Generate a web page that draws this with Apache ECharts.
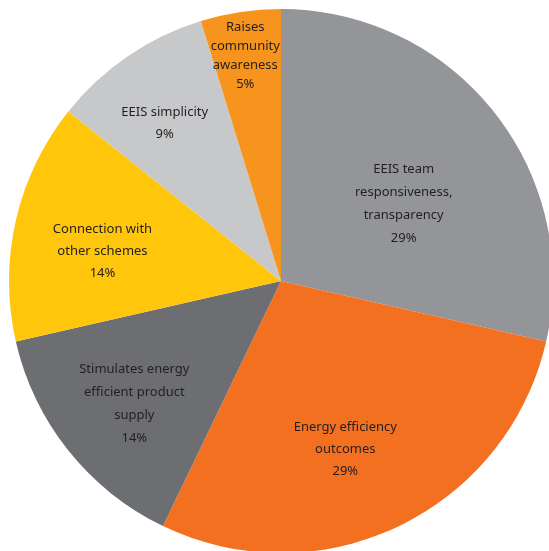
<!DOCTYPE html>
<html>
<head>
<meta charset="utf-8">
<script src="https://cdn.jsdelivr.net/npm/echarts@6/dist/echarts.min.js"></script>
<style>
html,body{margin:0;padding:0;background:#fff;}
#chart{width:549px;height:551px;}
</style>
</head>
<body>
<div id="chart"></div>
<script>
// Data
const categories = [
  "EEIS team\nresponsiveness,\ntransparency",
  "Energy efficiency\noutcomes",
  "Stimulates energy\nefficient product\nsupply",
  "Connection with\nother schemes",
  "EEIS simplicity",
  "Raises\ncommunity\nawareness"
];
const values = [6, 6, 3, 3, 2, 1];
const percentLabels = ["29%", "29%", "14%", "14%", "9%", "5%"];

// Styles
const colors = ["#939598", "#f37021", "#6d6e71", "#ffc60b", "#c7c8ca", "#f7941d"];
const labelOffsets = [[14, 9], [4, 43], [-38, 36], [-43, 1], [-38, -43], [-15, -88]];
const lineHeights = [23, 22, 23, 22, 22, 19];

const chart = echarts.init(document.getElementById('chart'), null, {renderer: 'canvas'});
const data = categories.map((c, i) => ({
  name: c,
  value: values[i],
  itemStyle: {color: colors[i]},
  label: {offset: labelOffsets[i], lineHeight: lineHeights[i]}
}));
chart.setOption({
  animation: false,
  series: [{
    type: 'pie',
    center: [281, 281],
    radius: [0, 272],
    startAngle: 90,
    clockwise: true,
    avoidLabelOverlap: false,
    itemStyle: {borderWidth: 0},
    emphasis: {disabled: true},
    label: {
      show: true,
      position: 'inside',
      color: '#231f20',
      fontFamily: 'Noto Sans',
      fontSize: 13,
      align: 'center',
      formatter: p => p.name + '\n' + percentLabels[p.dataIndex]
    },
    labelLine: {show: false},
    data: data
  }]
});
</script>
</body>
</html>
